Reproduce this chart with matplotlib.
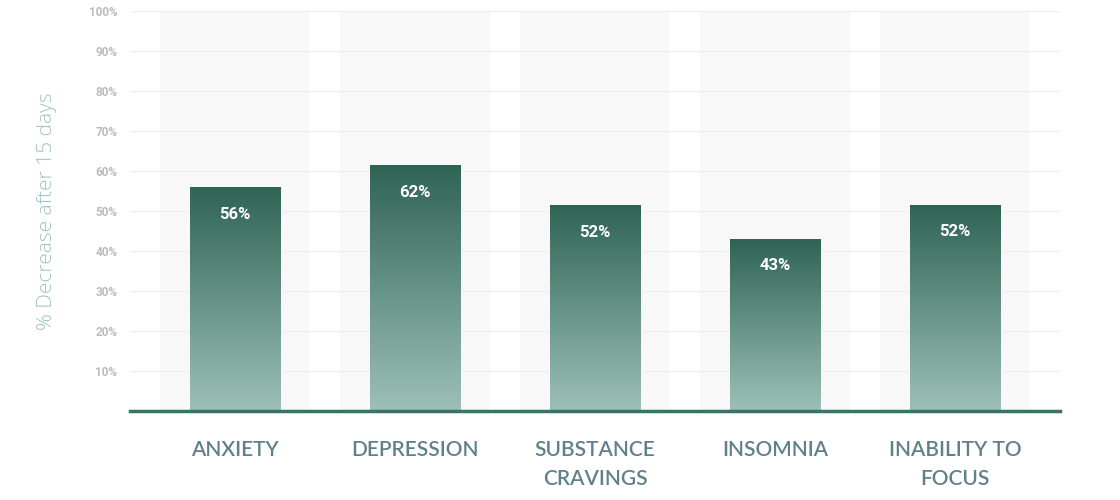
import numpy as np
import matplotlib
matplotlib.use("Agg")
from matplotlib import pyplot as plt
from matplotlib.colors import LinearSegmentedColormap

CATEGORIES = ["ANXIETY", "DEPRESSION", "SUBSTANCE\nCRAVINGS", "INSOMNIA", "INABILITY TO\nFOCUS"]
VALUES = [55.8, 61.3, 51.3, 43.0, 51.5]
LABELS = ["56%", "62%", "52%", "43%", "52%"]
YTICKS = [10, 20, 30, 40, 50, 60, 70, 80, 90, 100]

fig = plt.figure(figsize=(11.2, 5), dpi=100)
ax = fig.add_axes([130 / 1120, 89 / 500, 930 / 1120, 400 / 500])

ax.set_xlim(-0.583, 4.583)
ax.set_ylim(0, 100)

# light grey band behind every category
for i in range(len(CATEGORIES)):
    ax.axvspan(i - 0.417, i + 0.417, color="#f8f8f8", zorder=0, lw=0)

for t in YTICKS:
    ax.axhline(t, color="#efefef", lw=1, zorder=1)

cmap = LinearSegmentedColormap.from_list("bar", ["#9dc0b8", "#2f6455"])
grad = np.linspace(0, 1, 256).reshape(-1, 1)
for i, v in enumerate(VALUES):
    ax.imshow(grad, cmap=cmap, origin="lower", aspect="auto",
              extent=[i - 0.25, i + 0.25, 0, v], zorder=2)
    ax.annotate(LABELS[i], (i, v), xytext=(0, -27), textcoords="offset pixels",
                ha="center", va="center", color="white", fontsize=12,
                fontweight="bold", family="Roboto", zorder=3)

ax.set_xlim(-0.583, 4.583)
ax.set_ylim(0, 100)
ax.axhline(0, color="#3b7363", lw=2.5, zorder=4, clip_on=False)

ax.set_yticks(YTICKS)
ax.set_yticklabels([f"{t}%" for t in YTICKS], fontsize=8.5, fontweight="bold",
                   color="#b9bcbf", family="Roboto")
ax.set_xticks(range(len(CATEGORIES)))
ax.set_xticklabels(CATEGORIES, fontsize=15, color="#60808c", family="Lato",
                   fontweight="semibold", linespacing=1.55, va="top")
ax.tick_params(axis="x", length=0, pad=21)
ax.tick_params(axis="y", length=0, pad=9)
for s in ax.spines.values():
    s.set_visible(False)

ax.set_ylabel("% Decrease after 15 days", fontsize=15, color="#a0c2c2",
              family="Open Sans", fontweight="light", labelpad=23)

fig.savefig("out.png", dpi=100, facecolor="white")
